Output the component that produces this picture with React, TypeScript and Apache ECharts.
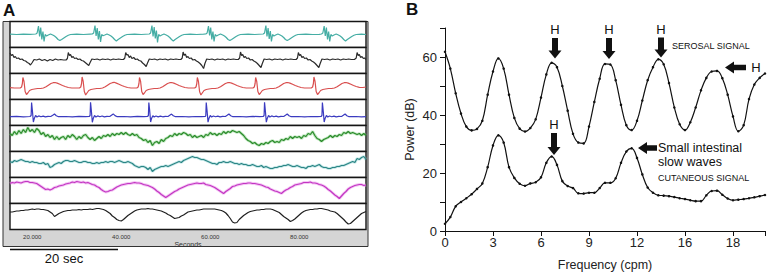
import React, { useEffect, useRef } from "react";
import * as echarts from "echarts";

// ---------- Panel A: time base ----------
const TIME_MIN = 15;
const TIME_MAX = 95;
const TIME_STEP = 0.5; // sampling of the dense traces (seconds)
const SECONDS_TICKS = [20, 40, 60, 80];

// Trace 1 (teal) [seconds, amplitude]
const TRACE1 = [
  [15, 0.3], [16.5, 0], [18, 0.4], [19.5, 0.1],
  [20.8, 0.5], [21.1, 1.5], [21.4, 8.5], [21.65, -2], [21.9, 7], [22.15, -5], [22.4, 3], [22.65, -7], [22.9, 0], [23.2, -1.5], [23.6, -0.5], [24.1, 0.5], [24.6, -0.5], [25, -1.5], [25.4, -3], [25.8, -5], [26.2, -6], [26.6, -5], [27.1, -3.5], [27.6, -2], [28.1, -0.8], [28.6, 0],
  [30, 0.3], [31.5, 0], [33, 0.4],
  [33.5, 0.5], [33.8, 1.5], [34.1, 9], [34.35, -1.5], [34.6, 6.5], [34.85, -5], [35.1, 3.5], [35.35, -7.5], [35.6, 0], [35.9, -1.2], [36.3, -0.5], [36.8, 0.5], [37.3, -0.5], [37.7, -1.5], [38.1, -3], [38.5, -5], [38.9, -6.5], [39.3, -5], [39.8, -3.5], [40.3, -2], [40.8, -0.8], [41.3, 0],
  [43, 0.3], [44.5, 0],
  [46.3, 0.5], [46.6, 1.5], [46.9, 9], [47.15, -2], [47.4, 7.5], [47.65, -4], [47.9, 4], [48.15, -8], [48.4, 0], [48.7, -1.5], [49.1, -0.5], [49.6, 0.5], [50.1, -0.5], [50.5, -1.5], [50.9, -3], [51.3, -5], [51.7, -6.5], [52.1, -5], [52.6, -3.5], [53.1, -2], [53.6, -0.8], [54.1, 0],
  [55.5, 0.3], [57, 0], [58.5, 0.3],
  [59, 0.5], [59.3, 1.5], [59.6, 8.5], [59.85, -1], [60.1, 7], [60.35, -5], [60.6, 3], [60.85, -7], [61.1, 0], [61.4, -1.5], [61.8, -0.5], [62.3, 0.5], [62.8, -0.5], [63.2, -1.5], [63.6, -3], [64, -5], [64.4, -6], [64.8, -5], [65.3, -3.5], [65.8, -2], [66.3, -0.8], [66.8, 0],
  [68.5, 0.3], [70, 0],
  [71.9, 0.5], [72.2, 1.5], [72.5, 9], [72.75, -2], [73, 6.5], [73.25, -4.5], [73.5, 3.5], [73.75, -7], [74, 0], [74.3, -1.5], [74.7, -0.5], [75.2, 0.5], [75.7, -0.5], [76.1, -1.5], [76.5, -3], [76.9, -5], [77.3, -6], [77.7, -5], [78.2, -3.5], [78.7, -2], [79.2, -0.8], [79.7, 0],
  [81.5, 0.3], [83, 0], [84.5, 0.2],
  [85, 0.5], [85.3, 1.5], [85.6, 8.5], [85.85, -1.5], [86.1, 7], [86.35, -5], [86.6, 3], [86.85, -7], [87.1, 0], [87.4, -1.5], [87.8, -0.5], [88.3, 0.5], [88.8, -0.5], [89.2, -1.5], [89.6, -3], [90, -5], [90.4, -6.5], [90.8, -5], [91.3, -3.5], [91.8, -2], [92.3, -0.8], [92.8, 0],
  [94, 0.3], [95, 0],
];

// Trace 2 (dark grey)
const TRACE2 = [
  [15, 7.5], [15.3, 5], [15.6, 6], [15.9, 3], [16.2, 4], [16.5, 2], [16.9, 2.5], [17.3, 1], [17.7, 1.5], [18.1, 0], [18.5, -0.5], [18.9, -2], [19.3, -3], [19.6, -4.5], [20, -2], [20.4, 1], [21, 0.5], [21.6, 1.5], [22.2, 0], [22.8, 1], [23.4, -0.5], [24, 1], [24.6, 0], [25.2, 1.5], [25.8, 0.5], [26.4, 1], [27, 0.5], [27.6, 0.5], [27.9, 2],
  [28.1, 8], [28.35, 5], [28.6, 6], [28.9, 3], [29.2, 4], [29.5, 2], [29.9, 2.5], [30.3, 1], [30.7, 1.5], [31.1, 0], [31.5, -0.5], [31.9, -2], [32.3, -3.5], [32.7, -5], [33, -2], [33.4, 1.5], [34, 1], [34.6, 1.5], [35.2, 0.5], [35.8, 1.5], [36.4, 1], [37, 1.5], [37.6, 0.5], [38.2, 1.5], [38.8, 1], [39.4, 1.5], [40, 1], [40.5, 1], [40.8, 2.5],
  [41, 8], [41.25, 5.5], [41.5, 6], [41.8, 3], [42.1, 4.5], [42.4, 2], [42.8, 3], [43.2, 1], [43.6, 1.5], [44, 0], [44.4, -0.5], [44.8, -2.5], [45.2, -4], [45.6, -6], [45.9, -2.5], [46.3, 1.5], [46.9, 1], [47.5, 1.5], [48.1, 0.5], [48.7, 1.5], [49.3, 1], [49.9, 1.5], [50.5, 0.5], [51.1, 1.5], [51.7, 1], [52.3, 1.5], [52.9, 1], [53.4, 1], [53.7, 2.5],
  [53.9, 8.5], [54.15, 5], [54.4, 6.5], [54.7, 3], [55, 4], [55.3, 2], [55.7, 2.5], [56.1, 0.5], [56.5, 1], [56.9, -0.5], [57.3, -1.5], [57.7, -3], [58.1, -5], [58.5, -8], [58.8, -3], [59.2, 1.5], [59.8, 1], [60.4, 1.5], [61, 0.5], [61.6, 1.5], [62.2, 1], [62.8, 1.5], [63.4, 0.5], [64, 1.5], [64.6, 1], [65.2, 1.5], [65.8, 1], [66.3, 1], [66.6, 2.5],
  [66.8, 8.5], [67.05, 5], [67.3, 6], [67.6, 3], [67.9, 4], [68.2, 2], [68.6, 2.5], [69, 0.5], [69.4, 1], [69.8, -0.5], [70.2, -1.5], [70.6, -3], [71, -5], [71.4, -7], [71.7, -3], [72.1, 1.5], [72.7, 1], [73.3, 1.5], [73.9, 0.5], [74.5, 1.5], [75.1, 1], [75.7, 1.5], [76.3, 0.5], [76.9, 1.5], [77.5, 1], [78.1, 1.5], [78.7, 1], [79.3, 1], [79.6, 2.5],
  [79.8, 8], [80.05, 5], [80.3, 6], [80.6, 3], [80.9, 4], [81.2, 2], [81.6, 2.5], [82, 0.5], [82.4, 1], [82.8, -0.5], [83.2, -1.5], [83.6, -3], [84, -5], [84.4, -7], [84.7, -3], [85.1, 1.5], [85.7, 1], [86.3, 1.5], [86.9, 0.5], [87.5, 1.5], [88.1, 1], [88.7, 1.5], [89.3, 0.5], [89.9, 1.5], [90.5, 1], [91.1, 1.5], [91.7, 1], [92.4, 1], [92.8, 2.5],
  [93, 8], [93.25, 5], [93.5, 6], [93.8, 3], [94.1, 4], [94.4, 2], [94.7, 2.5], [95, 1],
];

// Trace 3 (red)
const TRACE3 = [
  [15, -1.2], [16, -1.5], [17, -1.5], [17.3, -1.5], [17.6, -0.5], [17.78, 3],
  [17.9, 9], [18.15, 5], [18.4, -5], [18.7, -8], [19, -6.5], [19.4, -4], [19.9, -3], [20.5, -2.5], [21.2, -2], [21.9, -2], [22.5, -1.5], [23.1, -0.3], [23.7, 1.5], [24.2, 3], [24.7, 3.8], [25.1, 4], [25.6, 3.4], [26.2, 2.2], [26.8, 1], [27.4, 0], [28.1, -1], [28.9, -1.5], [29.9, -1.5], [30.6, -1.5], [30.9, -0.5], [31.08, 3],
  [31.2, 9.5], [31.45, 5], [31.7, -5], [32, -8.5], [32.3, -6.5], [32.7, -4], [33.2, -3], [33.8, -2.5], [34.5, -2], [35.2, -2], [35.8, -1.5], [36.4, -0.3], [37, 1.5], [37.5, 3], [38, 3.8], [38.4, 4.2], [38.9, 3.4], [39.5, 2.2], [40.1, 1], [40.7, 0], [41.4, -1], [42.2, -1.5], [43.2, -1.5], [43.5, -1.5], [43.8, -0.5], [43.98, 3],
  [44.1, 9], [44.35, 5], [44.6, -5], [44.9, -8], [45.2, -6.5], [45.6, -4], [46.1, -3], [46.7, -2.5], [47.4, -2], [48.1, -2], [48.7, -1.5], [49.3, -0.3], [49.9, 1.5], [50.4, 3], [50.9, 3.8], [51.3, 4], [51.8, 3.4], [52.4, 2.2], [53, 1], [53.6, 0], [54.3, -1], [55.1, -1.5], [56.1, -1.5], [56.5, -1.5], [56.8, -0.5], [56.98, 3],
  [57.1, 9], [57.35, 5], [57.6, -5], [57.9, -8.5], [58.2, -6.5], [58.6, -4], [59.1, -3], [59.7, -2.5], [60.4, -2], [61.1, -2], [61.7, -1.5], [62.3, -0.3], [62.9, 1.5], [63.4, 3], [63.9, 3.8], [64.3, 4], [64.8, 3.4], [65.4, 2.2], [66, 1], [66.6, 0], [67.3, -1], [68.1, -1.5], [69.1, -1.5], [69.6, -1.5], [69.9, -0.5], [70.08, 3],
  [70.2, 9], [70.45, 5], [70.7, -5], [71, -8], [71.3, -6.5], [71.7, -4], [72.2, -3], [72.8, -2.5], [73.5, -2], [74.2, -2], [74.8, -1.5], [75.4, -0.3], [76, 1.5], [76.5, 3], [77, 3.8], [77.4, 4], [77.9, 3.4], [78.5, 2.2], [79.1, 1], [79.7, 0], [80.4, -1], [81.2, -1.5], [82.2, -1.5], [82.7, -1.5], [83, -0.5], [83.18, 3],
  [83.3, 9.5], [83.55, 5], [83.8, -5], [84.1, -8], [84.4, -6.5], [84.8, -4], [85.3, -3], [85.9, -2.5], [86.6, -2], [87.3, -2], [87.9, -1.5], [88.5, -0.3], [89.1, 1.5], [89.6, 3], [90.1, 3.8], [90.5, 4], [91, 3.4], [91.6, 2.2], [92.2, 1], [92.8, 0], [93.5, -0.8], [94.3, -1], [95, -0.5],
];

// Trace 4 (blue)
const TRACE4 = [
  [15, -4.2], [16.5, -3.9], [18, -4.3], [19.5, -4], [19.75, -3],
  [19.85, 10], [20.05, 1], [20.25, -9.5], [20.45, -6], [20.75, -3], [21.05, -4.5], [21.45, -3.4], [21.95, -4.3], [22.45, -3.6], [22.95, -4.4], [23.55, -3.8], [24.15, -4], [24.6, -2.8], [25, -1.5], [25.4, -3.2], [25.9, -4.2], [27.5, -4], [29, -4.3], [30.5, -3.9], [32, -4.2], [32.8, -4], [33, -3],
  [33.1, 10.2], [33.3, 1], [33.5, -9.8], [33.7, -6], [34, -3], [34.3, -4.6], [34.7, -3.4], [35.2, -4.3], [35.7, -3.5], [36.2, -4.4], [36.8, -3.8], [37.4, -4], [37.8, -2.7], [38.2, -1.4], [38.6, -3.1], [39.1, -4.2], [40.6, -4], [42.1, -4.3], [43.6, -3.9], [45.1, -4.2], [45.9, -4], [46.1, -3],
  [46.2, 10], [46.4, 1.5], [46.6, -9.5], [46.8, -6], [47.1, -3.2], [47.4, -4.5], [47.8, -3.5], [48.3, -4.4], [48.8, -3.6], [49.3, -4.3], [49.9, -3.8], [50.5, -4], [50.9, -2.8], [51.3, -1.6], [51.7, -3.2], [52.2, -4.2], [53.7, -4], [55.2, -4.3], [56.7, -4], [58.1, -4.2], [58.9, -4], [59, -3],
  [59.1, 10], [59.3, 1], [59.5, -9.6], [59.7, -6], [60, -3], [60.3, -4.5], [60.7, -3.5], [61.2, -4.3], [61.7, -3.6], [62.2, -4.4], [62.8, -3.8], [63.4, -4], [63.8, -2.8], [64.2, -1.5], [64.6, -3.2], [65.1, -4.2], [66.6, -4], [68.1, -4.3], [69.6, -3.9], [71.1, -4.2], [71.9, -4], [72.1, -3],
  [72.2, 10.2], [72.4, 1], [72.6, -9.6], [72.8, -6], [73.1, -3], [73.4, -4.5], [73.8, -3.4], [74.3, -4.3], [74.8, -3.6], [75.3, -4.4], [75.9, -3.8], [76.5, -4], [76.9, -2.8], [77.3, -1.5], [77.7, -3.2], [78.2, -4.2], [79.7, -4], [81.2, -4.3], [82.7, -4], [84.1, -4.2], [84.9, -4], [85.1, -3],
  [85.2, 10], [85.4, 1], [85.6, -9.5], [85.8, -6], [86.1, -3], [86.4, -4.5], [86.8, -3.5], [87.3, -4.3], [87.8, -3.6], [88.3, -4.4], [88.9, -3.8], [89.5, -4], [89.9, -2.8], [90.3, -1.5], [90.7, -3.2], [91.2, -4.2], [92.7, -4], [94, -4.3], [95, -4.1],
];

// Trace 5 (green), one value every 0.5 s from 15 s
const TRACE5 = [
  5, 3, 7, 4, 8, 5, 9, 6, 11, 7,
  9, 6, 10, 8, 4, 6, 2, 4, 1, 3,
  -1, 2, -1, 1, 2, -1, 3, 1, 4, 2,
  -1, 2, 0, 3, 4, 1, -1, 1, -2, 0,
  2, 0, 3, 2, 4, 2, 5, 3, 5, 4,
  6, 4, 6, 4, 3, 5, 3, 4, 1, 0,
  -2, -1, -4, -2, -7, -4, -3, -5, -1, -3,
  0, 1, 3, 2, 5, 3, 5, 4, 6, 5,
  3, 4, 1, 3, 1, 2, 3, 1, 4, 3,
  6, 4, 5, 3, 5, 4, 7, 5, 7, 6,
  8, 7, 6, 7, 5, 3, 0, -2, -3, -5,
  -4, -6, -7, -5, -6, -4, -5, -3, -2, -4,
  -3, -4, -1, -2, 0, -1, 2, 0, 2, 1,
  2, 0, 3, 2, 5, 4, 7, 3, 0, -1,
  -3, -1, 0, 1, 3, 1, 3, 2, 4, 3,
  6, 5, 7, 5, 6, 5, 4, 5, 3, 5,
  3,
];

// Trace 6 (dark teal)
const TRACE6 = [
  3, 2, 4, 3, 4, 5, 4, 3, 3, 2,
  3, 2, 2, 1, 1, 2, 0, 1, -3, -2,
  0, 1, 2, 1, 3, 4, 4, 3, 3, 4,
  3, 2, 2, 3, 3, 2, 2, 1, 1, 2,
  1, 2, 2, 3, 2, 3, 3, 2, 3, 4,
  3, 2, 2, 3, 2, 1, -1, -2, -3, -2,
  -2, -3, -5, -3, -7, -5, -4, -3, -2, -2,
  -1, -2, -1, 0, 1, 2, 3, 2, 4, 5,
  6, 7, 8, 7, 7, 6, 5, 5, 4, 3,
  2, 1, 1, 0, 2, 2, 3, 2, 2, 3,
  2, 1, 1, 0, 1, 0, 0, -1, -1, 0,
  -1, -2, -2, -1, -3, -2, -3, -4, -4, -3,
  -3, -2, -2, -1, -1, 0, -1, -2, -2, -1,
  -2, -3, -3, -4, -2, -2, -1, -2, -1, 0,
  -2, -3, -3, -4, -4, -3, -3, -2, -2, -1,
  -1, 0, 1, 2, 3, 2, 6, 5, 7, 8,
  5,
];

// Trace 7 (magenta)
const TRACE7 = [
  7, 8, 7.5, 8.5, 8, 7.5, 8.5, 9, 9, 8,
  8, 7.5, 7, 5.5, 4, 2.5, 1, 1.5, 0.5, 1.5,
  3, 3.5, 4.5, 5, 5.5, 6.5, 7, 7.5, 8.5, 8,
  9, 8.5, 8, 8.5, 7.5, 8, 7, 6, 5.5, 4,
  3, 1, -0.5, -1.5, -1, 0, 0.5, 2, 3.5, 4.5,
  5.5, 6, 6.5, 7, 7, 7.5, 8, 7.5, 7.5, 7,
  6, 5.5, 5, 4, 3, 1.5, -0.5, -2, -4, -5.5,
  -7, -5.5, -4, -2.5, -1, 0, 1.5, 2.5, 3.5, 4.5,
  5.5, 6, 6.5, 7, 7.5, 7, 7, 7.5, 6, 5.5,
  5, 4, 3, 1.5, 0, -1.5, -3, -1, 0.5, 2,
  4, 4.5, 5.5, 6, 6.5, 7, 7, 7.5, 7.5, 7,
  7, 6.5, 6, 5.5, 4.5, 3.5, 3, 1.5, 0.5, -0.5,
  -1, -2, -3, -1, 0.5, 1.5, 3, 4, 5.5, 6,
  6.5, 7, 8, 8, 8, 8.5, 7.5, 7.5, 7, 6,
  5.5, 4.5, 3, 1, -0.5, -2.5, -4.5, -6, -8, -5.5,
  -3, -1, 1.5, 3, 4, 5, 5.5, 6, 6, 5,
  5.5,
];

// Trace 8 (black)
const TRACE8 = [
  4.5, 4.5, 5, 5.5, 5.5, 6, 6, 6.5, 6.5, 7,
  7.5, 7, 7.5, 7.5, 7, 7, 6.5, 6, 4.5, 3,
  0, 1.5, 3, 4, 5, 5.5, 6, 6, 6.5, 6.5,
  6.5, 7, 6.5, 7, 7, 7, 7.5, 7, 7.5, 8,
  8, 7.5, 7, 6, 4.5, 3, 0.5, -1, -3, -4,
  -4.5, -3, -1, 1, 2.5, 4, 5.5, 6.5, 7, 7.5,
  7.5, 7.5, 8, 7.5, 7.5, 7, 6.5, 6, 5.5, 4.5,
  3.5, 2, 1, -0.5, -2, -1.5, -1, 0.5, 1.5, 3,
  4.5, 5, 5.5, 6, 6.5, 6.5, 7, 7.5, 7.5, 7.5,
  7.5, 7.5, 7.5, 7, 6.5, 6, 5, 3.5, 1, -2,
  -5.5, -6.5, -6, -3, -1, 1, 2.5, 4, 5, 5.5,
  6, 6.5, 6.5, 7, 7, 7.5, 7.5, 7.5, 7, 6,
  5, 4, 2, 0, -1.5, -3, -5, -4, -2.5, -0.5,
  1.5, 3.5, 5, 6, 6.5, 7, 7, 7.5, 7.5, 8,
  8, 7.5, 7, 6.5, 5.5, 5, 4.5, 3, 1, -1,
  -3, -5.5, -7.5, -7, -5, -3, -1, 1, 3, 4,
  5,
];

// ---------- Panel B: spectra, one value every 1/3 cpm from 0 ----------
const FREQ_STEP = 1 / 3;
const SEROSAL = [
  61.8, 56, 47.5, 40.5, 36, 34.7, 35.2, 38, 47, 55,
  59.5, 56, 47, 39, 35.3, 34.3, 35.5, 38.5, 46, 54,
  58, 56.5, 50, 41.5, 33.5, 30.5, 30.2, 36, 44.5, 52.5,
  57.6, 57.4, 52, 43.5, 36.5, 34.8, 38, 45, 52, 56.5,
  59.2, 57.5, 51, 42.6, 36.8, 34.8, 37.5, 42.6, 48.5, 52.8,
  55, 55.2, 52.7, 47, 39.5, 34.4, 36.5, 45.5, 50.5, 52.8,
  54.3,
];
const CUTANEOUS = [
  2.5, 4.8, 8.5, 10, 11.3, 12.7, 14.5, 16.4, 22, 29.5,
  33, 30.5, 22, 18.3, 16.3, 15.6, 16.4, 16.8, 18.5, 23.5,
  25.7, 22.8, 17.2, 15.5, 14.8, 13, 12.9, 13.2, 13.2, 14.8,
  16.6, 16.6, 18.2, 23.5, 27.4, 28.5, 25.2, 19.5, 15, 13.2,
  12.3, 12.2, 12, 11.7, 11.3, 11, 10.6, 10.3, 10.3, 12.3,
  13.8, 13.9, 12.5, 11.2, 10.6, 10.8, 11, 11.3, 11.6, 12,
  12.4,
];
const FREQ_TICKS = [0, 3, 6, 9, 12, 15, 18];
const FREQ_TICK_LABELS = ["0", "3", "6", "9", "12", "16", "18"];
const POWER_LABELS = [0, 20, 40, 60];

const FONT = "Liberation Sans, Arial, Helvetica, sans-serif";

const TRACES = [
  { data: TRACE1, color: "#45ada4", halo: null },
  { data: TRACE2, color: "#2b2b2b", halo: null },
  { data: TRACE3, color: "#d94f4f", halo: null },
  { data: TRACE4, color: "#3b3bc0", halo: null },
  { data: TRACE5, color: "#2a8a2a", halo: "rgba(110,200,110,0.45)" },
  { data: TRACE6, color: "#2b8585", halo: "rgba(120,200,200,0.4)" },
  { data: TRACE7, color: "#c236c2", halo: "rgba(235,150,235,0.55)" },
  { data: TRACE8, color: "#1f1f1f", halo: null },
];

function toPairs(d: any[]) {
  if (Array.isArray(d[0])) return d;
  return d.map((v: number, k: number) => [TIME_MIN + k * TIME_STEP, v]);
}

function downArrow(cx: number, top: number, tip: number) {
  return {
    type: "polygon",
    shape: {
      points: [
        [cx - 3, top], [cx + 3, top], [cx + 3, tip - 8], [cx + 6.5, tip - 8],
        [cx, tip], [cx - 6.5, tip - 8], [cx - 3, tip - 8],
      ],
    },
    style: { fill: "#111" },
    z: 20,
  };
}
function leftArrow(tipX: number, cy: number, end: number) {
  return {
    type: "polygon",
    shape: {
      points: [
        [tipX, cy], [tipX + 9, cy - 6], [tipX + 9, cy - 2.7], [end, cy - 2.7],
        [end, cy + 2.7], [tipX + 9, cy + 2.7], [tipX + 9, cy + 6],
      ],
    },
    style: { fill: "#111" },
    z: 20,
  };
}
function label(text: string, x: number, y: number, size: number, align = "left", weight = "normal") {
  return {
    type: "text",
    z: 20,
    style: {
      text, x, y, fill: "#111",
      font: `${weight} ${size}px ${FONT}`,
      align, textAlign: align, verticalAlign: "middle", textVerticalAlign: "middle",
    },
  };
}

function buildOption() {
  const grids: any[] = [];
  const xAxes: any[] = [];
  const yAxes: any[] = [];
  const series: any[] = [];
  TRACES.forEach((tr, i) => {
    const last = i === TRACES.length - 1;
    grids.push({
      left: 10, width: 356, top: 21.5 + 26 * i, height: 26,
      show: true, backgroundColor: "#ffffff", borderColor: "#151515", borderWidth: 1.4,
    });
    xAxes.push({
      type: "value", gridIndex: i, min: TIME_MIN, max: TIME_MAX, show: last,
      axisLine: { show: false }, axisTick: { show: false }, splitLine: { show: false },
      axisLabel: {
        show: last, customValues: SECONDS_TICKS, fontSize: 6, color: "#333", margin: 4,
        formatter: (v: number) => (SECONDS_TICKS.indexOf(v) >= 0 ? v.toFixed(3) : ""),
      },
      name: last ? "Seconds" : "", nameLocation: "middle", nameGap: 11,
      nameTextStyle: { fontSize: 7, color: "#333" },
    });
    yAxes.push({ type: "value", gridIndex: i, min: -13, max: 13, show: false });
    const pairs = toPairs(tr.data);
    if (tr.halo) {
      series.push({
        type: "line", xAxisIndex: i, yAxisIndex: i, data: pairs, symbol: "none", silent: true,
        lineStyle: { color: tr.halo, width: 3 }, z: 2,
      });
    }
    series.push({
      type: "line", xAxisIndex: i, yAxisIndex: i, data: pairs, symbol: "none", silent: true,
      lineStyle: { color: tr.color, width: 1.2 }, z: 3,
    });
  });

  // Panel B
  grids.push({ left: 445, top: 28, width: 323, height: 206, show: false });
  xAxes.push({
    type: "value", gridIndex: 8, min: 0, max: 20, interval: 3,
    axisLine: { lineStyle: { color: "#111", width: 1 } },
    axisTick: { length: 5, lineStyle: { color: "#111" } },
    splitLine: { show: false },
    axisLabel: {
      fontSize: 13, color: "#222", margin: 5, fontFamily: FONT,
      formatter: (v: number) => {
        const k = FREQ_TICKS.indexOf(v);
        return k >= 0 ? FREQ_TICK_LABELS[k] : "";
      },
    },
    name: "Frequency (cpm)", nameLocation: "middle", nameGap: 27,
    nameTextStyle: { fontSize: 12.5, color: "#222", fontFamily: FONT },
  });
  yAxes.push({
    type: "value", gridIndex: 8, min: 0, max: 70, interval: 10,
    axisLine: { show: true, lineStyle: { color: "#111", width: 1 } },
    axisTick: { show: true, length: 5, lineStyle: { color: "#111" } },
    splitLine: { show: false },
    axisLabel: {
      fontSize: 13, color: "#222", margin: 8, fontFamily: FONT,
      formatter: (v: number) => (POWER_LABELS.indexOf(v) >= 0 ? String(v) : ""),
    },
    name: "Power (dB)", nameLocation: "middle", nameGap: 29,
    nameTextStyle: { fontSize: 12.5, color: "#222", fontFamily: FONT },
  });
  [SEROSAL, CUTANEOUS].forEach((arr) => {
    series.push({
      type: "line", xAxisIndex: 8, yAxisIndex: 8, silent: true,
      data: arr.map((v, k) => [k * FREQ_STEP, v]),
      smooth: 0.4, symbol: "circle", symbolSize: 2.5, showSymbol: true,
      itemStyle: { color: "#111" }, lineStyle: { color: "#111", width: 1.2 }, z: 4,
    });
  });

  const graphic = [
    { type: "rect", z: -10, shape: { x: 3, y: 21.5, width: 365, height: 225 }, style: { fill: "#d5d5d5", stroke: "#333", lineWidth: 1 } },
    label("A", 3, 10, 17, "left", "bold"),
    label("B", 406, 9, 17, "left", "bold"),
    { type: "line", z: 20, shape: { x1: 10, y1: 249.5, x2: 118, y2: 249.5 }, style: { stroke: "#111", lineWidth: 1.5 } },
    label("20 sec", 64, 258.5, 13, "center"),
    downArrow(555, 38, 58.5),
    downArrow(609, 38, 59),
    downArrow(661, 37.5, 57.5),
    downArrow(554, 133, 155),
    leftArrow(725, 67.5, 746),
    leftArrow(638, 148, 657),
    label("H", 555, 29, 13, "center"),
    label("H", 609, 29, 13, "center"),
    label("H", 661, 29, 13, "center"),
    label("H", 756, 67.5, 13, "center"),
    label("H", 554, 124, 13, "center"),
    label("SEROSAL SIGNAL", 672, 46, 9),
    label("Small intestinal", 658, 148, 12.5),
    label("slow waves", 658, 162, 12.5),
    label("CUTANEOUS SIGNAL", 658, 178, 9),
  ];

  return {
    animation: false,
    backgroundColor: "#ffffff",
    textStyle: { fontFamily: FONT },
    grid: grids,
    xAxis: xAxes,
    yAxis: yAxes,
    series,
    graphic,
  };
}

export default function App() {
  const ref = useRef<HTMLDivElement>(null);
  useEffect(() => {
    if (!ref.current) return;
    const chart = echarts.init(ref.current, null, { renderer: "svg" });
    chart.setOption(buildOption() as any);
    return () => chart.dispose();
  }, []);
  return (
    <div
      ref={ref}
      style={{ position: "fixed", left: 0, top: 0, width: 768, height: 276, background: "#fff" }}
    />
  );
}
